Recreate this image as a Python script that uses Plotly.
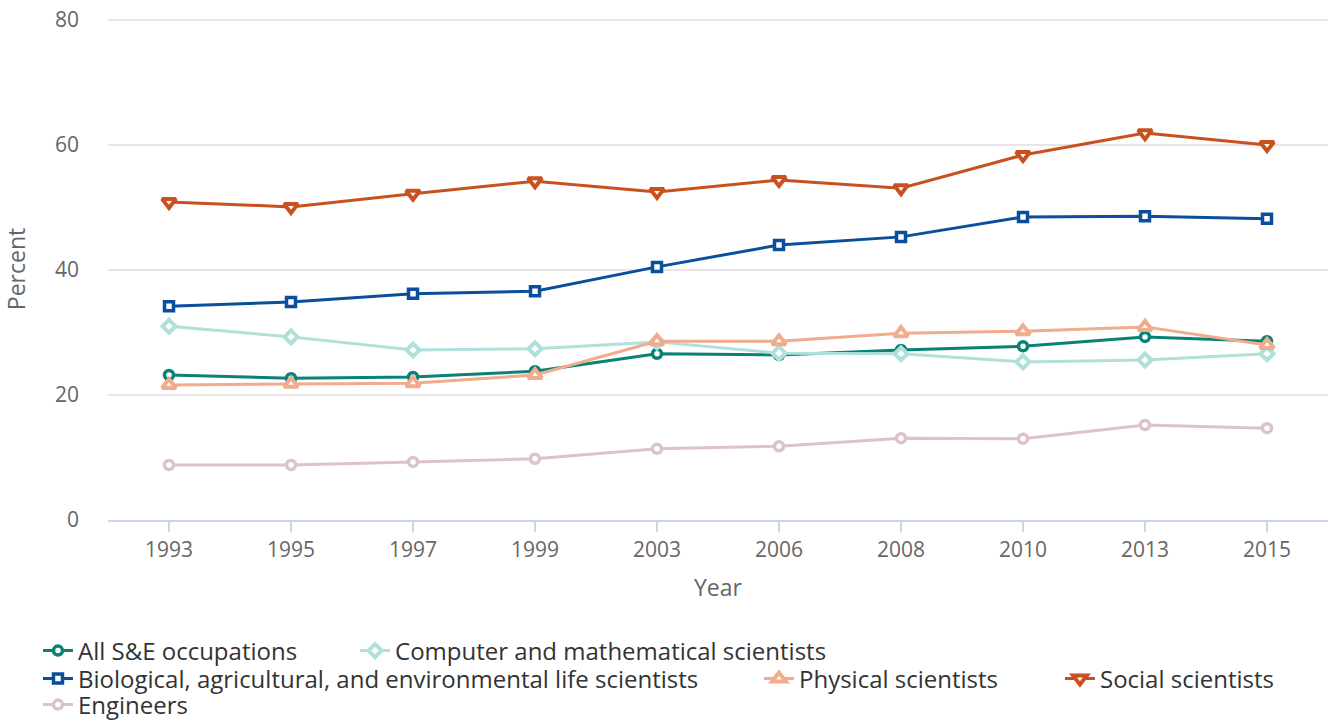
import plotly.graph_objects as go

years = ["1993", "1995", "1997", "1999", "2003", "2006", "2008", "2010", "2013", "2015"]

all_se = [23.2, 22.7, 22.9, 23.8, 26.6, 26.4, 27.2, 27.8, 29.3, 28.6]
computer_math = [31.0, 29.3, 27.2, 27.4, 28.5, 26.7, 26.6, 25.3, 25.6, 26.6]
bio_ag_env = [34.2, 34.9, 36.2, 36.6, 40.5, 44.0, 45.3, 48.5, 48.6, 48.2]
physical = [21.6, 21.8, 21.9, 23.2, 28.6, 28.6, 29.9, 30.2, 30.9, 28.0]
social = [50.9, 50.1, 52.2, 54.2, 52.5, 54.4, 53.1, 58.4, 61.9, 60.0]
engineers = [8.8, 8.8, 9.3, 9.8, 11.4, 11.8, 13.1, 13.0, 15.2, 14.7]

y_ticks = [0, 20, 40, 60, 80]

# name, values, colour, symbol, size, line width, legend id, legend x, legend y
series = [
    ("All S&E occupations", all_se, "#0a8276", "circle", 9, 3.5, "legend2", -0.0574, -0.261),
    ("Computer and mathematical scientists", computer_math, "#b0e0da", "diamond", 10, 4, "legend3", 0.2025, -0.261),
    ("Biological, agricultural, and environmental life scientists", bio_ag_env, "#0b4f9c", "square", 9, 3.5, "legend4", -0.0574, -0.3167),
    ("Physical scientists", physical, "#f0ac8c", "triangle-up", 12, 4, "legend5", 0.5336, -0.3167),
    ("Social scientists", social, "#c9511f", "triangle-down", 12, 4, "legend6", 0.7803, -0.3167),
    ("Engineers", engineers, "#dcc1cf", "circle", 9, 3.5, "legend7", -0.0574, -0.3685),
]

fig = go.Figure()
legends = {}
for name, vals, color, sym, size, lw, leg, lx, ly in series:
    fig.add_trace(go.Scatter(
        x=years, y=vals, name=name, mode="lines+markers", legend=leg,
        line=dict(color=color, width=3),
        marker=dict(symbol=sym, size=size, color="white",
                    line=dict(color=color, width=lw)),
    ))
    legends[leg] = dict(orientation="h", x=lx, xanchor="left", y=ly, yanchor="middle",
                        font=dict(size=24, color="#333333", family="Open Sans"),
                        bgcolor="rgba(0,0,0,0)", itemwidth=30)

fig.update_layout(
    width=1331, height=722,
    margin=dict(l=108, r=3, t=18, b=202, autoexpand=False),
    plot_bgcolor="white", paper_bgcolor="white",
    font=dict(family="Open Sans", color="#666666"),
    xaxis=dict(type="category", showgrid=False, showline=True, linecolor="#ccd6eb",
               linewidth=1.5, ticks="outside", ticklen=10, tickcolor="#ccd6eb",
               tickwidth=1.5, tickfont=dict(size=21, color="#666666"),
               title=dict(text="Year", font=dict(size=23, color="#666666"), standoff=18),
               range=[-0.5, 9.5]),
    yaxis=dict(range=[0, 80.32], tickvals=y_ticks, showgrid=True,
               gridcolor="#e6e6e6", gridwidth=1.5, zeroline=False, showline=False,
               tickfont=dict(size=21, color="#666666"), ticklabelstandoff=28,
               ticklabeloverflow="allow",
               title=dict(text="Percent", font=dict(size=23, color="#666666"), standoff=22)),
    **legends,
)

fig.write_html("out.html", config={"displayModeBar": False},
               post_script="document.body.style.margin='0';")
